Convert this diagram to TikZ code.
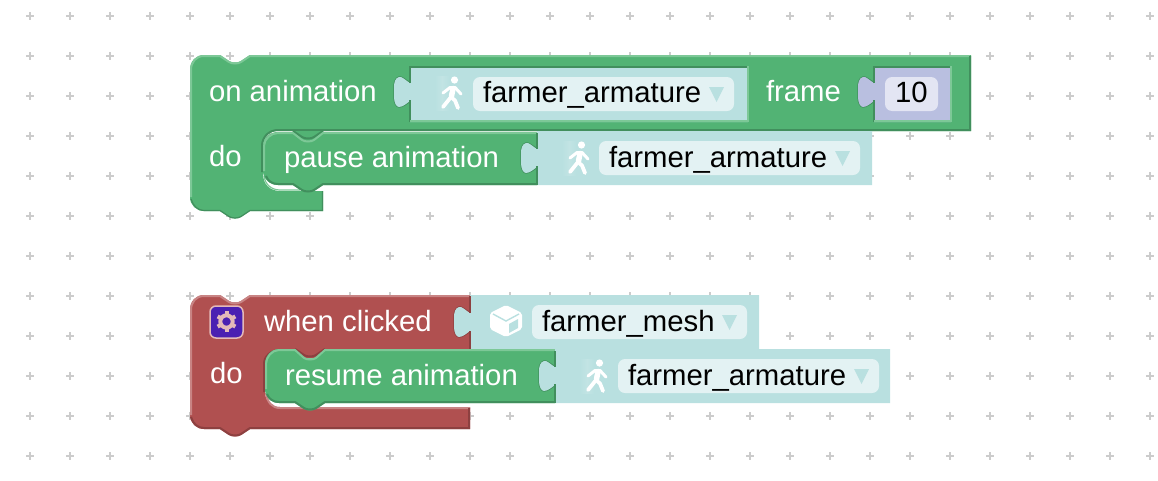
\documentclass[tikz,border=0pt]{standalone}
\usepackage{fontspec}
\setmainfont{Liberation Sans}
\definecolor{grn}{HTML}{52B374}
\definecolor{grnD}{HTML}{418F5D}
\definecolor{grnL}{HTML}{7DC897}
\definecolor{redb}{HTML}{B05050}
\definecolor{redD}{HTML}{8D4040}
\definecolor{redL}{HTML}{C88484}
\definecolor{cyn}{HTML}{B9E0E0}
\definecolor{cynF}{HTML}{E3F2F3}
\definecolor{cynT}{HTML}{C2E4E4}
\definecolor{pur}{HTML}{B9BFE0}
\definecolor{purF}{HTML}{E3E5F3}
\definecolor{gearbg}{HTML}{4A20B2}
\definecolor{gearfg}{HTML}{E3B9B9}
\definecolor{crossc}{HTML}{CCCCCC}
\tikzset{
  lbl/.style={anchor=base west,inner sep=0pt,outer sep=0pt,text=white,font=\fontsize{29.3}{32}\selectfont},
  fld/.style={anchor=base west,inner sep=0pt,outer sep=0pt,text=black,font=\fontsize{29.3}{32}\selectfont},
  edge/.style={line width=2pt,line cap=butt},
  thinedge/.style={line width=1.2pt,line cap=butt},
  iconline/.style={draw=white,line width=3.8pt,line cap=round,line join=round}
}
% value block: X, tab top, y1, y2, X2, fill, dark edge
\newcommand{\valbox}[7]{%
  \path[fill=#6,draw=#7,line width=1.4pt] (#1+1,#2+24)
    .. controls (#1-3,#2+26) and (#1-7,#2+30) .. (#1-11,#2+30)
    .. controls (#1-14,#2+30) and (#1-16,#2+25) .. (#1-16,#2+20)
    -- (#1-16,#2+10)
    .. controls (#1-16,#2+6) and (#1-15,#2+1) .. (#1-11,#2)
    .. controls (#1-8,#2-1) and (#1-4,#2+4) .. (#1+1,#2+6) -- cycle;
  \fill[#6] (#1,#3) -- (#5,#3) -- (#5,#4) -- (#1,#4) -- (#1,#2+24)
    .. controls (#1-3,#2+26) and (#1-7,#2+30) .. (#1-11,#2+30)
    .. controls (#1-14,#2+30) and (#1-16,#2+25) .. (#1-16,#2+20)
    -- (#1-16,#2+10)
    .. controls (#1-16,#2+6) and (#1-15,#2+1) .. (#1-11,#2)
    .. controls (#1-8,#2-1) and (#1-4,#2+4) .. (#1,#2+6) -- cycle;
}
% walker: head centre x,y
\newcommand{\walker}[2]{%
  \begin{scope}[shift={(#1,#2)}]
    \shade[left color=cyn,right color=cyn,middle color=cynT] (-19,-4) rectangle (-5,30);
    \fill[white] (0.5,0) circle (3.6pt);
    \draw[iconline,line width=3pt] (-11,13) -- (-4,7.5) -- (1,7.5) -- (7,14);
    \draw[iconline,line width=5.5pt] (-1,8.5) -- (-2.5,16);
    \draw[iconline] (-3,17) -- (-11,27);
    \draw[iconline] (-3,17) -- (1,20.5) -- (4,28);
  \end{scope}
}
% dropdown arrow
\newcommand{\arrowtri}[3]{\fill[#3] (#1,#2) -- (#1+15,#2) -- (#1+7.5,#2+15) -- cycle;}
% top notch / bottom bump profile
\newcommand{\prof}[2]{-- (#1,#2) -- (#1+9,#2+6) .. controls (#1+12,#2+8) and (#1+18,#2+8) .. (#1+21,#2+6) -- (#1+30,#2)}
\newcommand{\profr}[2]{-- (#1+30,#2) -- (#1+21,#2+6) .. controls (#1+18,#2+8) and (#1+12,#2+8) .. (#1+9,#2+6) -- (#1,#2)}
\begin{document}
\begin{tikzpicture}[x=1pt,y=-1pt]
\useasboundingbox (0,0) rectangle (1158,480);
\fill[white] (0,0) rectangle (1158,480);
% grid
\foreach \gx in {30,70,...,1150}{\foreach \gy in {16,56,...,456}{
  \fill[crossc] (\gx-4,\gy-1) rectangle (\gx+4,\gy+1);
  \fill[crossc] (\gx-1,\gy-4) rectangle (\gx+1,\gy+4);
}}
% ---------- green hat block
\fill[grn] (190,70) .. controls (190,61) and (196,55) .. (204,55) \prof{220}{55} -- (971,55) -- (971,131)
  -- (278,131) .. controls (269,131) and (263,137) .. (263,146) -- (263,174) .. controls (263,184) and (270,191) .. (280,191) -- (323,191) -- (323,211) \profr{220}{211} -- (204,211) .. controls (196,211) and (190,205) .. (190,197) -- cycle;
\draw[grnL,edge] (191,197) -- (191,70) .. controls (191,62) and (196,56) .. (204,56) \prof{220}{56} -- (970,56);
\draw[grnD,edge] (970,56) -- (970,130) -- (278,130) .. controls (269,130) and (262,137) .. (262,146) -- (262,172);
\draw[grnL,thinedge] (264,176) .. controls (265,184) and (271,190) .. (280,190) -- (300,190);
\draw[grnD,thinedge] (322.5,191) -- (322.5,210.5) \profr{220}{210.5} -- (204,210.5) .. controls (198,210.5) and (193,206) .. (191,199);
% value: farmer_armature 1
\valbox{410}{77}{66}{122}{748}{cyn}{grnD}
\draw[grnD,edge] (410,83) -- (410,67) -- (748,67);
\draw[grnD,edge] (410,100) -- (410,122);
\draw[grnL,edge] (410,121) -- (748,121) -- (748,66);
\walker{454}{80}
\fill[cynF,rounded corners=7pt] (473,77) rectangle (734,111);
\node[fld] (f1) at (483,102.5) {farmer\_armature};
\arrowtri{709}{87}{cyn}
\node[lbl] (l1) at (209,101) {on animation};
\node[lbl] (l2) at (766,101) {frame};
% value: 10
\valbox{874}{77}{66}{122}{951}{pur}{grnD}
\draw[grnD,edge] (874,83) -- (874,67) -- (951,67);
\draw[grnD,edge] (874,100) -- (874,122);
\draw[grnL,edge] (874,121) -- (951,121) -- (951,66);
\fill[purF,rounded corners=7pt] (885,77) rectangle (938,111);
\node[fld] (n1) at (895,102.5) {10};
\node[lbl] (l3) at (209,166) {do};
% ---------- pause block
\fill[grn] (293,131) rectangle (323,141);
\draw[grnD,edge] (293,131) -- (302,137) .. controls (305,139) and (311,139) .. (314,137) -- (323,131);
\fill[grn] (263,146) .. controls (263,138) and (270,132) .. (278,132) -- (293,132) -- (302,139) .. controls (305,141) and (311,141) .. (314,139) -- (323,132) -- (537,132) -- (537,185)
  \profr{293}{185} -- (278,185) .. controls (270,185) and (263,179) .. (263,171) -- cycle;
\draw[grnL,edge] (264,171) -- (264,146) .. controls (264,139) and (271,133) .. (278,133) -- (293,133) -- (302,140) .. controls (305,142) and (311,142) .. (314,140) -- (323,133) -- (537,133);
\draw[grnD,edge] (537,184) \profr{293}{184} -- (278,184) .. controls (272,184) and (268,181) .. (266,176);
\valbox{537}{143}{131}{185}{872}{cyn}{grnD}
\draw[grnD,thinedge] (537,133) -- (537,149);
\draw[grnD,thinedge] (537,166) -- (537,185);
\walker{581}{145}
\fill[cynF,rounded corners=7pt] (599,141) rectangle (860,175);
\node[fld] (f2) at (609,167) {farmer\_armature};
\arrowtri{835}{151}{cyn}
\node[lbl] (l4) at (284,167) {pause animation};
% ---------- red hat block
\fill[redb] (190,310) .. controls (190,301) and (196,295) .. (204,295) \prof{220}{295} -- (470,295) -- (470,349)
  -- (280,349) .. controls (271,349) and (265,355) .. (265,364) -- (265,392) .. controls (265,401) and (271,407) .. (280,407) -- (470,407) -- (470,429) \profr{220}{429} -- (204,429) .. controls (196,429) and (190,423) .. (190,415) -- cycle;
\draw[redL,edge] (191,415) -- (191,310) .. controls (191,302) and (196,296) .. (204,296) \prof{220}{296} -- (470,296);
\draw[redD,edge] (280,350) .. controls (271,350) and (264,356) .. (264,364) -- (264,392);
\draw[redL,edge] (266,393) .. controls (267,402) and (272,408) .. (280,408) -- (470,408);
\draw[redD,edge] (469,408) -- (469,428) \profr{220}{428} -- (204,428) .. controls (198,428) and (193,424) .. (191,417);
\valbox{470}{307}{295}{349}{759}{cyn}{redD}
\draw[redD,thinedge] (470,296) -- (470,313);
\draw[redD,thinedge] (470,331) -- (470,349);
% gear icon
\fill[gearbg,draw=gearfg,line width=1.5pt,rounded corners=6pt] (210,306) rectangle (243,338);
\draw[gearfg,line width=4pt] (226.5,321.5) circle (6.2pt);
\foreach \ga in {30,90,...,330}{
  \draw[gearfg,line width=4pt] (226.5,321.5) ++(\ga:7) -- ++(\ga:3.2);
}
% cube icon
\fill[white,rounded corners=2pt] (506,305) -- (522,313) -- (522,329) -- (506,337) -- (490,329) -- (490,313) -- cycle;
\draw[cyn,line width=1.4pt] (493,314) -- (506,321) -- (519,314);
\fill[cyn] (509,324) -- (518,319) -- (518,328) -- (509,333) -- cycle;
\fill[cynF,rounded corners=7pt] (532,305) rectangle (747,339);
\node[fld] (f3) at (542,331) {farmer\_mesh};
\arrowtri{722}{315}{cyn}
\node[lbl] (l5) at (264,331) {when clicked};
\node[lbl] (l6) at (210,383) {do};
% ---------- resume block
\fill[redb] (295,349) -- (325,349) -- (316,356) -- (304,356) -- cycle;
\fill[redb] (295,348) rectangle (325,358);
\draw[redD,edge] (295,349) -- (304,355) .. controls (307,357) and (313,357) .. (316,355) -- (325,349);
\fill[grn] (265,364) .. controls (265,356) and (271,349) .. (279,349) -- (295,349) -- (304,357) .. controls (307,359) and (313,359) .. (316,357) -- (325,349) -- (555,349) -- (555,403)
  \profr{295}{403} -- (279,403) .. controls (271,403) and (265,397) .. (265,389) -- cycle;
\draw[grnL,edge] (266,389) -- (266,364) .. controls (266,357) and (272,350) .. (279,350) -- (295,350) -- (304,358) .. controls (307,360) and (313,360) .. (316,358) -- (325,350) -- (555,350);
\draw[grnD,edge] (555,402) \profr{295}{402} -- (279,402) .. controls (273,402) and (269,399) .. (267,394);
\valbox{555}{361}{349}{403}{890}{cyn}{grnD}
\draw[grnD,thinedge] (555,351) -- (555,367);
\draw[grnD,thinedge] (555,384) -- (555,403);
\walker{599}{363}
\fill[cynF,rounded corners=7pt] (618,359) rectangle (879,393);
\node[fld] (f4) at (628,385.5) {farmer\_armature};
\arrowtri{854}{369}{cyn}
\node[lbl] (l7) at (285,385) {resume animation};
\end{tikzpicture}
\end{document}
